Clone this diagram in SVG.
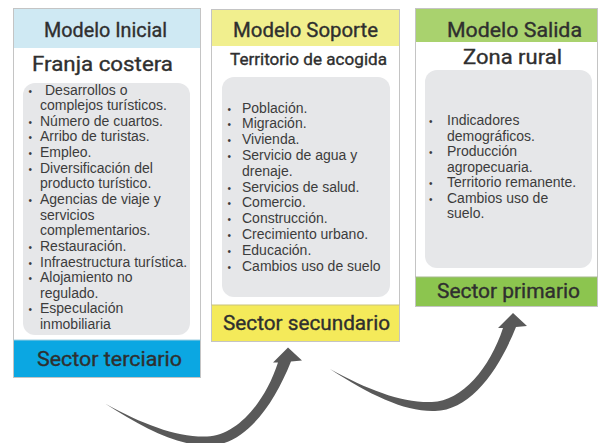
<svg xmlns="http://www.w3.org/2000/svg" xmlns:xlink="http://www.w3.org/1999/xlink" width="599" height="443" viewBox="0 0 599 443">
<style>
.frame{fill:#ffffff;stroke:#c4c4c4;stroke-width:1}
.panel{fill:#e6e7e9}
.hd{font-family:Roboto,"Noto Sans",sans-serif;font-weight:normal;fill:#2f2f2f;text-anchor:middle;stroke:#2f2f2f;stroke-width:0.35}
.h1{font-size:20px}
.h2{font-size:21px}
.h3{font-size:16.5px}
.li{font-family:"Liberation Sans",Arial,sans-serif;font-size:14px;fill:#3c3c3c}
.bu{font-family:"Liberation Sans",Arial,sans-serif;font-size:10px;fill:#3c3c3c}
.arrow{fill:#595959}
</style>
<defs>
<path id="curvedArrow" class="arrow" d="M330,369 C370,395 405,412 435,411 C470,410 498,372 516,327 L527,326 L513,313 L498,328 L503,328 C490,368 462,401 432,402 C402,403 368,390 330,369 Z"/>
</defs>
<rect width="599" height="443" fill="#ffffff"/>

<g id="node-modelo-inicial">
<rect class="frame" x="13.5" y="8.5" width="187" height="369"/>
<rect x="14" y="9" width="186" height="39" fill="#cfe9f3"/>
<rect x="14" y="340" width="186" height="37" fill="#0ba7e2"/>
<line x1="13.5" y1="340" x2="200.5" y2="340" stroke="#9ecfe0" stroke-width="1"/>
<text class="hd h1" x="105.5" y="37" textLength="123" lengthAdjust="spacingAndGlyphs">Modelo Inicial</text>
<text class="hd h2" x="102.5" y="71" textLength="141" lengthAdjust="spacingAndGlyphs">Franja costera</text>
<rect class="panel" x="23" y="83" width="167" height="252" rx="12"/>
<g class="bu">
<text x="28.5" y="94.5">•</text>
<text x="28.5" y="125.8">•</text>
<text x="28.5" y="141.4">•</text>
<text x="28.5" y="157">•</text>
<text x="28.5" y="172.6">•</text>
<text x="28.5" y="203.9">•</text>
<text x="28.5" y="250.8">•</text>
<text x="28.5" y="266.5">•</text>
<text x="28.5" y="282.1">•</text>
<text x="28.5" y="313.4">•</text>
</g>
<g class="li">
<text x="45" y="94.5">Desarrollos o</text>
<text x="40" y="110.1">complejos turísticos.</text>
<text x="40" y="125.8">Número de cuartos.</text>
<text x="40" y="141.4">Arribo de turistas.</text>
<text x="40" y="157">Empleo.</text>
<text x="40" y="172.6">Diversificación del</text>
<text x="40" y="188.3">producto turístico.</text>
<text x="40" y="203.9">Agencias de viaje y</text>
<text x="40" y="219.5">servicios</text>
<text x="40" y="235.2">complementarios.</text>
<text x="40" y="250.8">Restauración.</text>
<text x="40" y="266.5">Infraestructura turística.</text>
<text x="40" y="282.1">Alojamiento no</text>
<text x="40" y="297.7">regulado.</text>
<text x="40" y="313.4">Especulación</text>
<text x="40" y="329">inmobiliaria</text>
</g>
<text class="hd h1" x="109.5" y="366" textLength="145" lengthAdjust="spacingAndGlyphs">Sector terciario</text>
</g>

<g id="node-modelo-soporte">
<rect class="frame" x="211.5" y="9.5" width="188" height="332"/>
<rect x="212" y="10" width="187" height="36" fill="#f1ef8e"/>
<rect x="212" y="305" width="187" height="36" fill="#f4ea5a"/>
<line x1="211.5" y1="305" x2="399.5" y2="305" stroke="#c9c27a" stroke-width="1"/>
<text class="hd h1" x="305.5" y="37" textLength="145" lengthAdjust="spacingAndGlyphs">Modelo Soporte</text>
<text class="hd h3" x="308.5" y="65" textLength="157" lengthAdjust="spacingAndGlyphs">Territorio de acogida</text>
<rect class="panel" x="222" y="77" width="168" height="220" rx="12"/>
<g class="bu">
<text x="227.5" y="112.5">•</text>
<text x="227.5" y="128.3">•</text>
<text x="227.5" y="144.1">•</text>
<text x="227.5" y="159.9">•</text>
<text x="227.5" y="191.5">•</text>
<text x="227.5" y="207.3">•</text>
<text x="227.5" y="223.1">•</text>
<text x="227.5" y="238.9">•</text>
<text x="227.5" y="254.7">•</text>
<text x="227.5" y="270.5">•</text>
</g>
<g class="li">
<text x="242" y="112.5">Población.</text>
<text x="242" y="128.3">Migración.</text>
<text x="242" y="144.1">Vivienda.</text>
<text x="242" y="159.9">Servicio de agua y</text>
<text x="242" y="175.7">drenaje.</text>
<text x="242" y="191.5">Servicios de salud.</text>
<text x="242" y="207.3">Comercio.</text>
<text x="242" y="223.1">Construcción.</text>
<text x="242" y="238.9">Crecimiento urbano.</text>
<text x="242" y="254.7">Educación.</text>
<text x="242" y="270.5">Cambios uso de suelo</text>
</g>
<text class="hd h1" x="306.5" y="330" textLength="167" lengthAdjust="spacingAndGlyphs">Sector secundario</text>
</g>

<g id="node-modelo-salida">
<rect class="frame" x="415.5" y="8.5" width="182" height="298"/>
<rect x="416" y="9" width="181" height="33" fill="#a9d26e"/>
<rect x="416" y="277" width="181" height="29" fill="#8cc54f"/>
<line x1="415.5" y1="277" x2="597.5" y2="277" stroke="#a6b98e" stroke-width="1"/>
<text class="hd h1" x="514.5" y="37" textLength="135" lengthAdjust="spacingAndGlyphs">Modelo Salida</text>
<text class="hd h2" x="512.5" y="64" textLength="99" lengthAdjust="spacingAndGlyphs">Zona rural</text>
<rect class="panel" x="425" y="70" width="167" height="198" rx="12"/>
<g class="bu">
<text x="429" y="125">•</text>
<text x="429" y="156">•</text>
<text x="429" y="187">•</text>
<text x="429" y="202.5">•</text>
</g>
<g class="li">
<text x="447" y="125">Indicadores</text>
<text x="447" y="140.5">demográficos.</text>
<text x="447" y="156">Producción</text>
<text x="447" y="171.5">agropecuaria.</text>
<text x="447" y="187">Territorio remanente.</text>
<text x="447" y="202.5">Cambios uso de</text>
<text x="447" y="218">suelo.</text>
</g>
<text class="hd h1" x="508.5" y="298" textLength="143" lengthAdjust="spacingAndGlyphs">Sector primario</text>
</g>

<g id="connectors">
<use xlink:href="#curvedArrow" href="#curvedArrow" transform="translate(-225,34.5)"/>
<use xlink:href="#curvedArrow" href="#curvedArrow"/>
</g>
</svg>
